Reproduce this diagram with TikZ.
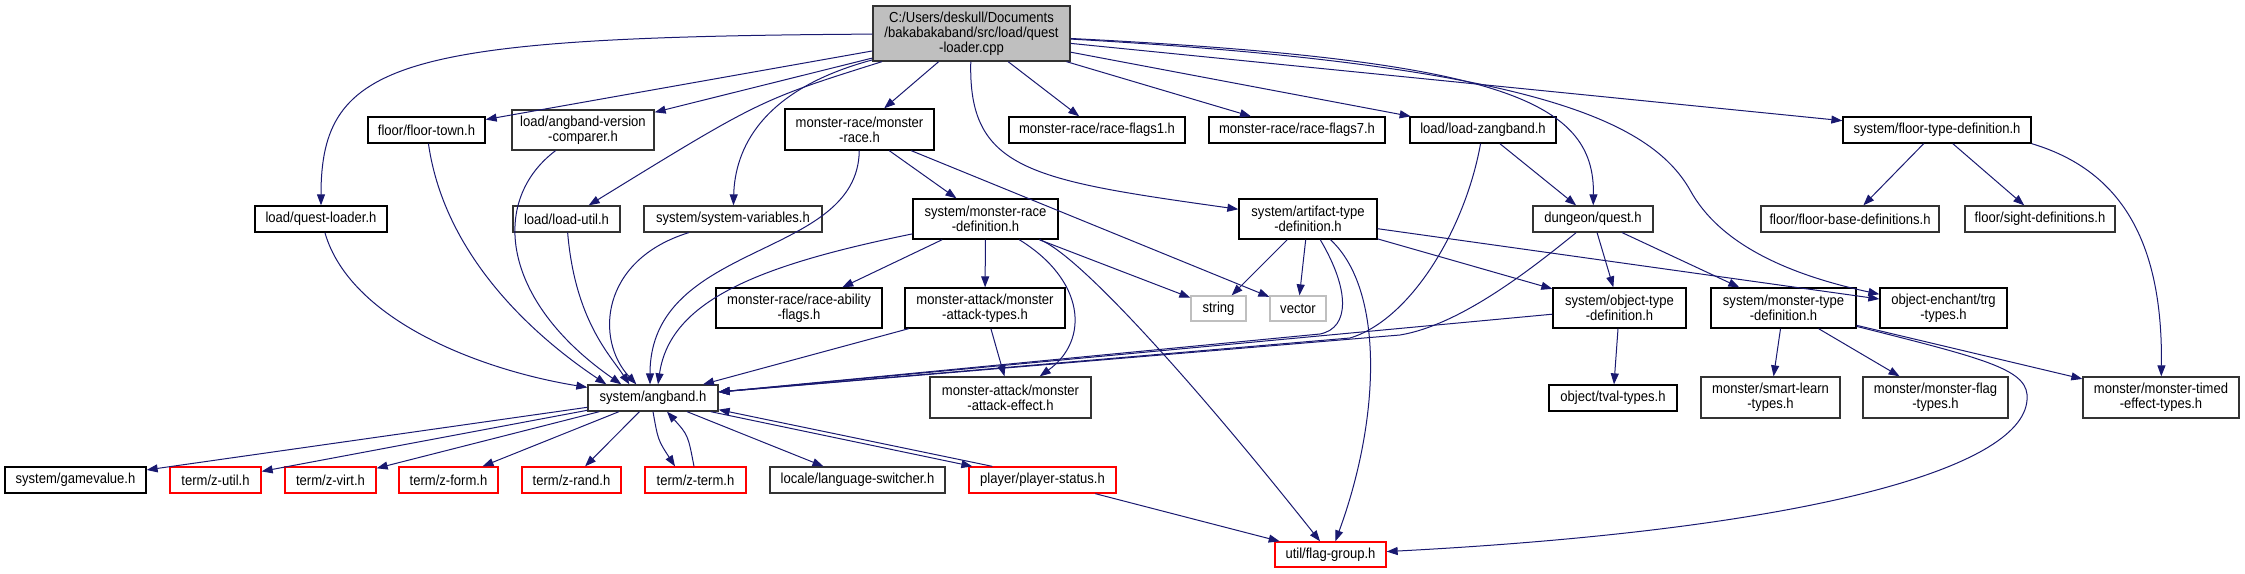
\documentclass[tikz,border=0pt]{standalone}
\usepackage{fontspec}
\setmainfont{Liberation Sans}[FakeStretch=0.9]
\usetikzlibrary{arrows.meta}
\definecolor{edgeblue}{HTML}{191970}
\definecolor{mainfill}{HTML}{BFBFBF}
\definecolor{nodoc}{HTML}{BFBFBF}
\definecolor{truncred}{HTML}{FF0000}

\begin{document}
\begin{tikzpicture}[x=1pt,y=-1pt,
    hdr/.style={draw=black,line width=1.3pt,fill=white,inner sep=0pt,minimum height=26pt,
        align=center,font=\fontsize{14.5}{15}\selectfont},
    tall/.style={minimum height=40pt},
    dimbox/.style={draw=black!80},
    cutbox/.style={draw=truncred},
    sysbox/.style={draw=nodoc},
    dep/.style={draw=edgeblue,line width=1pt,-{Triangle[length=11pt,width=8pt]}}]
    \useasboundingbox (0,0) rectangle (2245,573);
    % source file
    \node[hdr,dimbox,fill=mainfill,minimum width=197pt,minimum height=55pt] (main) at (971.5,33.5) {C:/Users/deskull/Documents\\/bakabakaband/src/load/quest\\-loader.cpp};
    % first row of headers
    \node[hdr,minimum width=117pt] (floortown) at (426.5,130) {floor/floor-town.h};
    \node[hdr,tall,dimbox,minimum width=142pt] (vcomp) at (583,130) {load/angband-version\\-comparer.h};
    \node[hdr,tall,minimum width=149pt,minimum height=41pt] (monsterrace) at (859.5,129.5) {monster-race/monster\\-race.h};
    \node[hdr,minimum width=176pt] (flagsone) at (1097,130) {monster-race/race-flags1.h};
    \node[hdr,minimum width=176pt] (flagsseven) at (1297,130) {monster-race/race-flags7.h};
    \node[hdr,minimum width=146pt] (zangband) at (1483,130) {load/load-zangband.h};
    \node[hdr,minimum width=188pt] (floortype) at (1937,130) {system/floor-type-definition.h};
    % second row
    \node[hdr,minimum width=132pt] (qloaderh) at (321,219) {load/quest-loader.h};
    \node[hdr,dimbox,minimum width=107pt] (loadutil) at (566.5,219) {load/load-util.h};
    \node[hdr,dimbox,minimum width=178pt] (sysvars) at (733,219) {system/system-variables.h};
    \node[hdr,tall,minimum width=145pt] (mrdef) at (985.5,219) {system/monster-race\\-definition.h};
    \node[hdr,tall,minimum width=138pt] (artifact) at (1308,219) {system/artifact-type\\-definition.h};
    \node[hdr,dimbox,minimum width=120pt] (dquest) at (1593,219) {dungeon/quest.h};
    \node[hdr,dimbox,minimum width=178pt] (floorbase) at (1850,219) {floor/floor-base-definitions.h};
    \node[hdr,dimbox,minimum width=150pt] (sight) at (2040,219) {floor/sight-definitions.h};
    % third row
    \node[hdr,tall,minimum width=166pt] (ability) at (799,308) {monster-race/race-ability\\-flags.h};
    \node[hdr,tall,minimum width=160pt] (atktypes) at (985,308) {monster-attack/monster\\-attack-types.h};
    \node[hdr,sysbox,minimum width=55pt,minimum height=25pt] (string) at (1218.5,308.5) {string};
    \node[hdr,sysbox,minimum width=56pt,minimum height=25pt] (vector) at (1298,308.5) {vector};
    \node[hdr,tall,minimum width=133pt] (objtype) at (1619.5,308) {system/object-type\\-definition.h};
    \node[hdr,tall,minimum width=145pt] (montype) at (1783.5,308) {system/monster-type\\-definition.h};
    \node[hdr,tall,minimum width=127pt] (trg) at (1943.5,308) {object-enchant/trg\\-types.h};
    % fourth row
    \node[hdr,dimbox,minimum width=130pt] (angband) at (653,398) {system/angband.h};
    \node[hdr,tall,dimbox,minimum width=161pt,minimum height=41pt] (atkeffect) at (1010.5,397.5) {monster-attack/monster\\-attack-effect.h};
    \node[hdr,minimum width=128pt] (tval) at (1613,398) {object/tval-types.h};
    \node[hdr,tall,dimbox,minimum width=139pt,minimum height=41pt] (smartlearn) at (1770.5,397.5) {monster/smart-learn\\-types.h};
    \node[hdr,tall,dimbox,minimum width=145pt,minimum height=41pt] (monflag) at (1935.5,397.5) {monster/monster-flag\\-types.h};
    \node[hdr,tall,dimbox,minimum width=156pt,minimum height=41pt] (timed) at (2161,397.5) {monster/monster-timed\\-effect-types.h};
    % fifth row
    \node[hdr,minimum width=141pt] (gamevalue) at (75.5,480) {system/gamevalue.h};
    \node[hdr,cutbox,minimum width=91pt] (zutil) at (215.5,480) {term/z-util.h};
    \node[hdr,cutbox,minimum width=91pt] (zvirt) at (330.5,480) {term/z-virt.h};
    \node[hdr,cutbox,minimum width=99pt] (zform) at (448.5,480) {term/z-form.h};
    \node[hdr,cutbox,minimum width=99pt] (zrand) at (571.5,480) {term/z-rand.h};
    \node[hdr,cutbox,minimum width=101pt] (zterm) at (695.5,480) {term/z-term.h};
    \node[hdr,dimbox,minimum width=175pt] (langswitch) at (857.5,480) {locale/language-switcher.h};
    \node[hdr,cutbox,minimum width=147pt] (pstatus) at (1042.5,480) {player/player-status.h};
    \node[hdr,cutbox,minimum width=111pt,minimum height=25pt] (flaggroup) at (1330.5,554.5) {util/flag-group.h};

    % includes of the source file
    \draw[dep] (main) .. controls (400,37) and (321,60) .. (qloaderh);
    \draw[dep] (main) -- (floortown);
    \draw[dep] (main) -- (vcomp);
    \draw[dep] (main) .. controls (760,100) .. (loadutil);
    \draw[dep] (main) .. controls (760,90) and (735,150) .. (sysvars);
    \draw[dep] (main) -- (monsterrace);
    \draw[dep] (main) -- (flagsone);
    \draw[dep] (main) -- (flagsseven);
    \draw[dep] (main) -- (zangband);
    \draw[dep] (main) -- (floortype);
    \draw[dep] (main) .. controls (1500,60) and (1595,100) .. (dquest);
    \draw[dep] (main) .. controls (1530,65) and (1650,120) .. (1690,190) .. controls (1720,245) and (1790,275) .. (trg);
    \draw[dep] (main) .. controls (968,170) and (1030,180) .. (artifact);

    % into system/angband.h from above
    \draw[dep] (qloaderh) .. controls (350,320) and (480,370) .. (angband);
    \draw[dep] (floortown) .. controls (445,260) and (540,340) .. ([xshift=19pt]angband.north west);
    \draw[dep] (vcomp) .. controls (490,200) and (500,300) .. ([xshift=34pt]angband.north west);
    \draw[dep] (loadutil) .. controls (575,320) and (610,355) .. ([xshift=42pt]angband.north west);
    \draw[dep] (sysvars) .. controls (600,260) and (595,340) .. ([xshift=49pt]angband.north west);
    \draw[dep] (monsterrace) .. controls (858,260) and (650,240) .. ([xshift=-3pt]angband.north);
    \draw[dep] (mrdef) .. controls (760,265) and (670,300) .. ([xshift=5pt]angband.north);
    \draw[dep] (atktypes) -- ([xshift=50pt]angband.north);

    % monster race
    \draw[dep] (monsterrace) -- (mrdef);
    \draw[dep] (monsterrace) -- (vector);
    \draw[dep] (mrdef) -- (ability);
    \draw[dep] (mrdef) -- (atktypes);
    \draw[dep] (mrdef) -- (string);
    \draw[dep] (mrdef) .. controls (1085,280) and (1090,340) .. (atkeffect);
    \draw[dep] (mrdef) .. controls (1080,255) and (1200,390) .. (flaggroup);
    \draw[dep] (atktypes) -- (atkeffect);

    % artifact, zangband, quest, object
    \draw[dep] (artifact) -- (string);
    \draw[dep] (artifact) -- (vector);
    \draw[dep] (artifact) -- (objtype);
    \draw[dep] (artifact) -- (trg);
    \draw[dep] (artifact) .. controls (1350,290) and (1350,328) .. (1320,334) -- ([yshift=6pt]angband.east);
    \draw[dep] (artifact) .. controls (1385,290) and (1380,420) .. (flaggroup);
    \draw[dep] (zangband) -- (dquest);
    \draw[dep] (zangband) .. controls (1465,230) and (1410,320) .. (1350,338) -- ([yshift=6pt]angband.east);
    \draw[dep] (dquest) -- (objtype);
    \draw[dep] (dquest) -- (montype);
    \draw[dep] (dquest) .. controls (1530,270) and (1460,325) .. (1400,335) -- ([yshift=6pt]angband.east);
    \draw[dep] (objtype) -- (tval);
    \draw[dep] (objtype) -- ([yshift=6pt]angband.east);

    % floor and monster types
    \draw[dep] (floortype) -- (floorbase);
    \draw[dep] (floortype) -- (sight);
    \draw[dep] (floortype.south east) .. controls (2120,170) and (2163,240) .. (timed);
    \draw[dep] (montype) -- (smartlearn);
    \draw[dep] (montype) -- (monflag);
    \draw[dep] (montype) -- (timed);
    \draw[dep] (montype) .. controls (1990,360) and (2030,370) .. (2027,400) .. controls (2022,470) and (1800,530) .. (flaggroup);

    % out of system/angband.h
    \draw[dep] (angband) -- (gamevalue);
    \draw[dep] (angband) -- (zutil);
    \draw[dep] (angband) -- (zvirt);
    \draw[dep] (angband) -- (zform);
    \draw[dep] (angband) -- (zrand);
    \draw[dep] (angband.south) .. controls (658,440) .. ([xshift=-20.5pt]zterm.north);
    \draw[dep] ([xshift=-1.5pt]zterm.north) .. controls (688,435) .. ([xshift=14pt]angband.south);
    \draw[dep] (angband) -- (langswitch);
    \draw[dep] ([xshift=-8pt]angband.south east) -- ([xshift=4pt]pstatus.north west);
    \draw[dep] ([xshift=24pt]pstatus.north west) -- ([yshift=2pt]angband.south east);
    \draw[dep] (pstatus) -- (flaggroup);
\end{tikzpicture}
\end{document}
